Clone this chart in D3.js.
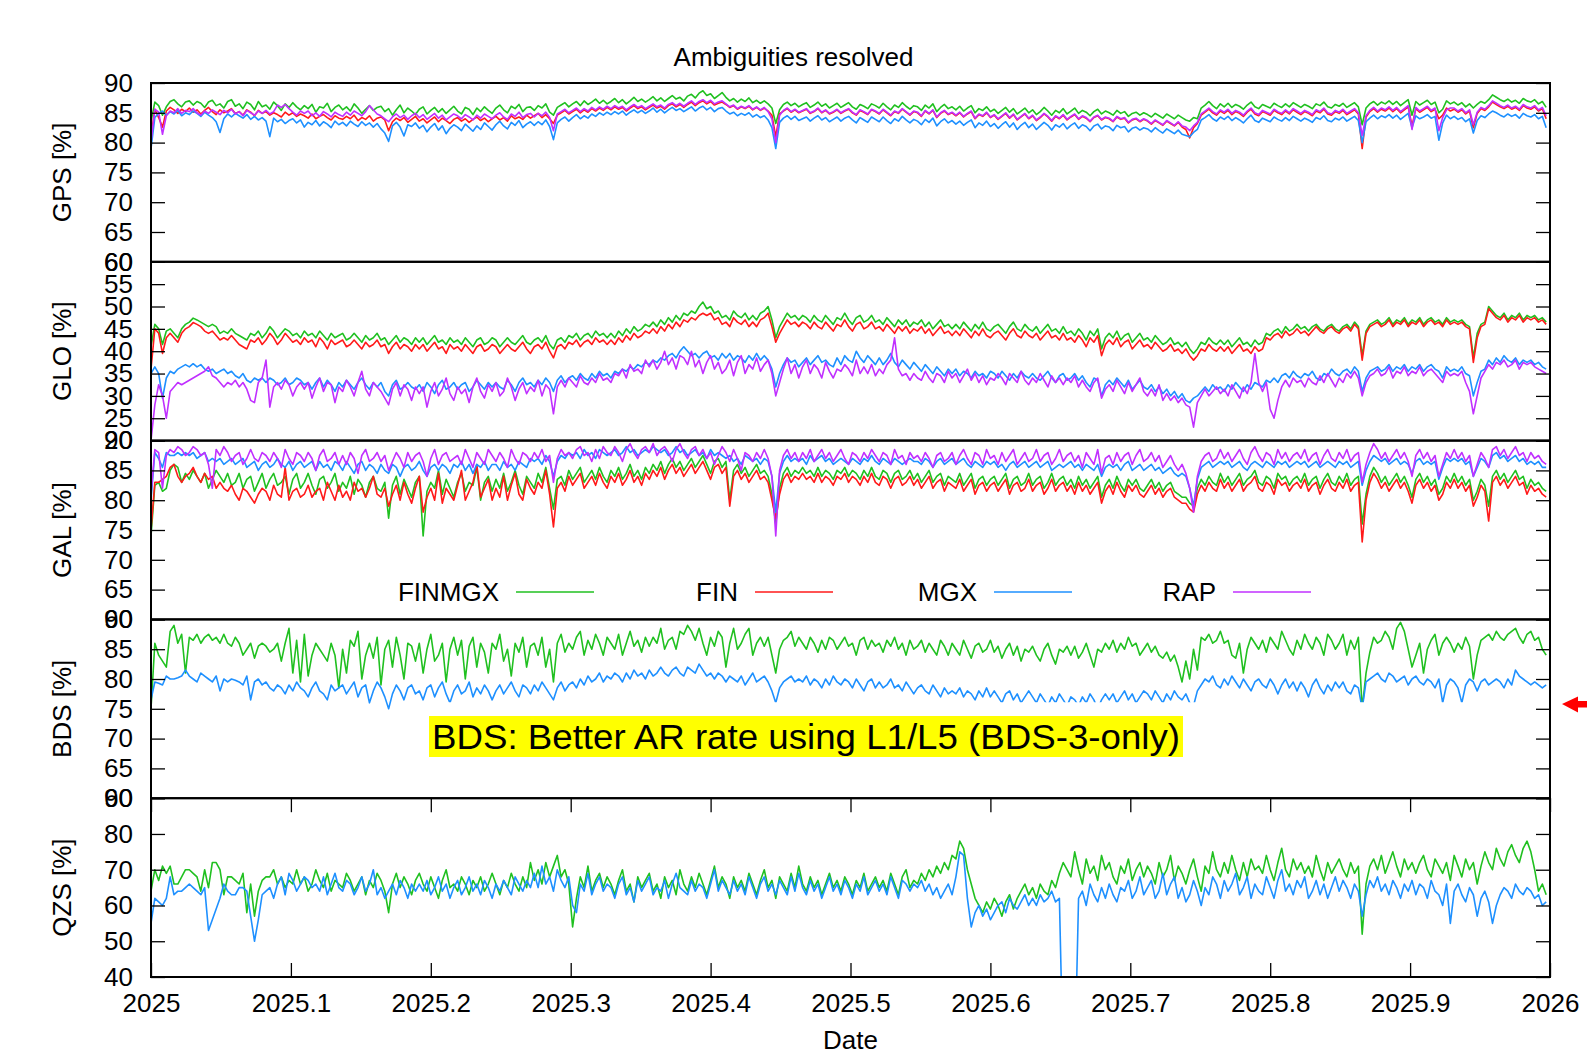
<!DOCTYPE html>
<html><head><meta charset="utf-8">
<script src="https://cdn.jsdelivr.net/npm/d3@7"></script>
<style>
body{margin:0;background:#fff}
svg{display:block}
text{font-family:"Liberation Sans",Arial,Helvetica,sans-serif}
</style>
</head><body>
<svg id="c" width="1587" height="1056"></svg>
<script>
// ---------- DATA (daily values, day 0 = 2025-01-01) ----------
const systems = ["GPS","GLO","GAL","BDS","QZS"];
const seriesNames = ["FINMGX","FIN","MGX","RAP"];
const yDomains = [[60,90],[20,60],[60,90],[60,90],[40,90]];
const yTickValues = [
  [60,65,70,75,80,85,90],
  [20,25,30,35,40,45,50,55,60],
  [60,65,70,75,80,85,90],
  [60,65,70,75,80,85,90],
  [40,50,60,70,80,90]
];
const xTickValues = [2025,2025.1,2025.2,2025.3,2025.4,2025.5,2025.6,2025.7,2025.8,2025.9,2026];
const xTickLabels = ["2025","2025.1","2025.2","2025.3","2025.4","2025.5","2025.6","2025.7","2025.8","2025.9","2026"];

const gpsFINMGX = [
83.5,86.8,86.2,84.6,86.0,86.9,87.2,86.5,86.0,86.8,
87.0,86.3,86.9,86.6,85.9,86.8,87.1,86.2,86.5,85.8,
86.9,87.2,86.1,86.5,85.7,86.8,86.4,85.5,86.9,86.0,
86.3,85.6,86.8,86.2,85.4,86.5,85.9,86.7,86.0,85.5,
86.2,85.7,86.4,85.1,86.0,85.8,86.6,85.2,85.9,86.3,
85.5,86.0,85.3,86.5,85.8,84.9,85.6,86.2,85.4,85.9,
86.1,85.2,85.7,84.6,85.5,86.3,85.0,85.8,85.3,84.7,
85.6,86.0,84.8,85.4,85.9,85.1,85.7,84.9,85.5,86.1,
85.3,84.8,85.9,85.6,84.7,85.8,85.2,86.0,85.4,84.9,
85.8,86.3,85.5,85.0,86.1,85.7,86.4,85.2,85.9,86.0,
85.4,86.2,85.8,86.5,85.1,84.6,85.9,86.3,86.7,86.0,
86.5,86.9,86.2,87.0,86.4,86.8,87.3,86.6,87.1,86.5,
86.9,87.4,86.7,87.2,86.5,87.0,87.6,86.9,87.3,86.8,
87.2,87.7,87.0,87.5,86.9,87.4,87.9,87.3,87.6,87.0,
87.8,88.1,87.5,88.3,88.7,87.9,88.2,87.4,87.9,88.4,
87.6,87.0,87.4,86.8,87.3,86.9,87.5,86.7,87.1,86.6,
87.0,86.5,85.8,83.2,85.5,86.4,86.8,86.2,86.6,86.0,
86.4,86.7,85.9,86.3,86.8,86.1,86.5,85.8,86.2,86.6,
85.9,86.3,86.7,86.0,85.6,86.4,86.1,85.7,86.5,86.2,
85.8,86.6,86.0,85.5,86.3,85.9,86.7,86.1,85.6,86.2,
86.0,85.4,86.3,85.8,86.5,85.2,85.9,86.4,85.7,86.0,
85.5,86.1,85.3,85.8,86.2,85.0,85.7,85.4,86.0,85.2,
85.6,84.9,85.4,85.9,85.1,85.7,84.8,85.3,85.8,85.0,
85.5,84.7,85.2,85.9,85.3,84.6,85.4,85.0,85.7,84.8,
85.3,85.8,84.9,85.4,85.1,84.5,85.2,85.6,84.8,85.3,
85.0,84.6,85.4,84.9,85.2,84.4,84.9,85.1,84.6,85.0,
84.7,84.3,84.9,84.5,84.1,84.8,84.4,84.0,84.6,84.2,
83.8,83.6,84.2,84.0,85.8,86.3,86.9,86.2,85.7,86.5,
86.0,86.6,85.9,86.4,86.1,85.6,86.3,86.8,86.0,85.7,
86.4,86.1,85.8,86.6,86.2,85.9,86.5,86.0,86.7,86.3,
85.9,86.4,86.1,85.7,86.5,86.2,86.8,86.0,85.8,86.4,
86.1,86.6,85.9,86.3,86.7,86.0,83.0,85.8,86.5,86.9,
86.3,86.8,86.5,87.0,86.4,86.9,86.2,86.7,87.2,84.6,
86.9,86.3,86.7,87.1,86.4,86.8,85.0,85.6,87.0,86.5,
86.8,86.3,86.7,86.0,86.5,85.8,86.4,86.9,86.6,87.2,
88.0,87.6,87.2,86.9,87.3,86.8,87.1,86.6,87.4,87.0,
86.8,87.2,86.5,86.9,85.9];

const gpsFIN = [
81.0,85.6,84.2,82.6,85.3,85.9,85.5,84.9,85.6,85.2,
85.8,85.1,85.5,84.8,85.4,85.9,85.2,84.7,85.5,85.0,
85.3,85.7,84.9,85.2,84.6,85.5,85.1,84.5,85.4,84.9,
85.2,84.6,85.0,84.7,84.3,85.1,84.6,85.0,84.4,84.8,
84.5,84.1,84.8,84.0,84.4,84.7,84.2,83.8,84.5,84.1,
83.9,84.4,84.0,84.6,83.7,84.2,83.9,84.5,83.6,84.1,
84.3,83.8,82.0,83.5,84.1,83.7,84.2,83.4,83.9,84.4,
83.6,84.0,83.3,83.8,84.3,83.5,84.1,83.7,83.2,83.9,
84.2,83.6,84.0,83.4,83.9,84.3,83.7,84.1,83.5,84.0,
84.4,83.8,84.2,83.6,84.5,84.0,84.3,83.9,84.6,84.1,
84.5,84.9,84.2,84.7,84.0,83.2,84.6,85.0,85.4,84.8,
85.2,85.6,85.0,85.5,85.1,85.7,85.3,85.8,85.4,85.9,
85.5,86.0,85.6,85.9,85.3,85.8,86.2,85.7,86.0,85.5,
85.9,86.3,85.8,86.1,85.6,86.2,86.5,86.0,86.4,85.9,
86.4,86.8,86.2,86.7,87.0,86.5,86.9,86.3,86.6,86.8,
86.4,85.9,86.2,85.6,86.0,85.7,86.1,85.5,85.9,85.4,
85.8,85.3,84.6,81.0,84.8,85.3,85.7,85.1,85.5,85.0,
85.3,85.6,84.9,85.2,85.7,85.0,85.4,84.8,85.1,85.5,
84.9,85.3,85.6,85.0,84.6,85.4,85.1,84.7,85.5,85.2,
84.8,85.5,85.0,84.5,85.2,84.9,85.6,85.1,84.6,85.2,
85.0,84.4,85.3,84.8,85.4,84.2,84.9,85.3,84.7,85.0,
84.5,85.0,84.3,84.8,85.2,84.0,84.7,84.4,85.0,84.2,
84.6,83.9,84.4,84.9,84.1,84.7,83.8,84.3,84.8,84.0,
84.5,83.7,84.2,84.8,84.3,83.6,84.4,84.0,84.6,83.8,
84.3,84.7,83.9,84.4,84.1,83.5,84.2,84.5,83.8,84.2,
84.0,83.5,84.3,83.9,84.1,83.3,83.8,84.0,83.5,83.9,
83.6,83.1,83.7,83.3,82.9,83.6,83.2,82.8,83.4,82.6,
82.2,80.8,82.5,83.2,84.6,85.1,85.6,85.0,84.6,85.3,
84.9,85.4,84.7,85.2,84.9,84.4,85.1,85.6,84.8,84.5,
85.2,84.9,84.6,85.4,85.0,84.7,85.3,84.8,85.5,85.1,
84.7,85.2,84.9,84.5,85.3,85.0,85.6,84.8,84.6,85.2,
84.9,85.4,84.7,85.1,85.5,84.8,79.0,84.3,85.2,85.7,
85.1,85.6,85.3,85.8,85.2,85.7,85.0,85.5,86.0,82.8,
85.7,85.1,85.5,85.9,85.2,85.6,84.0,84.6,85.8,85.3,
85.6,85.1,85.5,84.8,85.3,82.5,84.9,85.7,85.4,86.0,
86.8,86.4,86.0,85.7,86.1,85.6,85.9,85.4,86.2,85.8,
85.6,86.0,85.3,85.7,84.0];

const gpsMGX = [
79.0,84.2,84.9,85.3,84.6,85.2,84.8,85.4,84.5,85.0,
84.7,85.3,84.9,84.4,85.1,84.6,84.2,83.5,81.7,84.0,
84.8,84.3,84.9,84.5,84.1,84.7,83.9,84.4,83.8,84.2,
83.6,81.0,84.1,83.5,83.9,83.2,83.7,84.0,83.3,83.8,
82.6,83.4,83.0,83.7,82.8,83.5,83.1,82.5,83.6,83.0,
83.4,82.8,83.6,83.1,82.7,83.5,82.9,83.3,82.6,83.2,
82.3,81.6,80.2,82.8,83.4,82.6,81.1,83.0,82.7,83.3,
82.4,82.9,81.8,82.6,83.2,82.1,82.8,81.5,82.4,83.0,
82.6,82.0,83.1,82.5,81.9,82.8,82.2,83.3,82.7,82.1,
83.0,83.6,82.8,82.3,83.4,82.9,83.7,82.5,83.1,83.5,
82.9,83.5,83.0,83.8,82.7,80.5,83.3,83.9,84.3,83.6,
84.2,84.7,84.0,84.5,84.1,84.8,84.4,85.0,84.6,85.1,
84.7,85.2,84.8,85.3,84.6,85.1,85.5,85.0,85.4,84.9,
85.3,85.8,85.1,85.6,85.0,85.5,85.9,85.4,85.7,85.2,
85.6,86.0,85.3,85.8,86.1,85.5,85.9,85.2,85.7,85.9,
85.3,84.8,85.1,84.5,84.9,84.6,85.0,84.3,84.7,84.2,
84.5,83.8,82.5,79.0,83.4,84.1,84.5,83.9,84.4,83.7,
84.0,84.3,83.6,84.1,84.5,83.8,84.2,83.5,83.9,84.3,
83.6,84.1,84.4,83.8,83.3,84.2,83.8,83.4,84.3,83.9,
83.5,84.3,83.7,83.2,84.0,83.6,84.4,83.8,83.3,83.9,
83.6,83.0,83.9,83.4,84.1,82.8,83.5,84.0,83.3,83.7,
83.1,83.6,82.9,83.4,83.8,82.5,83.3,82.9,83.6,82.7,
83.2,82.4,83.0,83.5,82.6,83.3,82.2,82.9,83.4,82.5,
83.1,82.2,82.8,83.4,82.9,82.1,83.0,82.6,83.2,82.3,
82.9,83.3,82.4,83.0,82.7,82.0,82.8,83.1,82.3,82.8,
82.6,82.0,82.9,82.5,82.7,81.8,82.4,82.6,82.1,82.5,
82.3,81.8,82.5,82.0,81.6,82.3,81.9,81.5,82.1,81.4,
81.2,81.0,81.7,82.2,83.8,84.2,84.7,84.0,83.6,84.3,
83.9,84.4,83.7,84.2,83.8,83.3,84.0,84.6,83.7,83.4,
84.1,83.8,83.5,84.3,83.9,83.6,84.2,83.7,84.4,84.0,
83.6,84.1,83.8,83.4,84.2,83.9,84.5,83.7,83.5,84.1,
83.8,84.3,83.6,84.0,84.4,83.7,80.0,83.5,84.1,84.6,
84.0,84.5,84.2,84.7,84.1,84.6,83.9,84.4,84.9,82.5,
84.5,84.0,84.3,84.7,84.1,84.4,80.4,83.3,84.6,84.0,
84.4,83.9,84.2,83.5,84.0,81.6,83.7,84.5,84.2,84.8,
85.3,85.0,84.6,84.3,84.8,84.4,84.7,84.1,84.9,84.5,
84.3,84.7,84.0,84.4,82.5];

const gpsRAP = [
80.0,85.6,85.1,81.4,84.5,85.3,85.0,85.7,84.9,85.4,
85.2,85.7,85.0,84.6,85.3,84.9,85.5,85.1,84.7,85.4,
85.0,85.6,84.8,85.2,84.5,85.4,85.0,84.6,85.3,84.9,
85.4,84.8,85.2,86.3,85.9,86.4,85.7,85.1,84.6,85.3,
84.9,85.3,84.5,85.0,84.4,85.2,84.8,84.3,85.1,84.7,
84.4,85.1,84.6,85.3,84.9,84.5,85.2,86.2,85.5,84.8,
84.5,84.0,83.5,84.3,84.8,84.2,84.6,83.9,84.5,84.9,
84.2,84.7,83.9,84.4,84.9,84.1,84.6,83.8,84.3,84.8,
84.5,84.0,84.7,84.3,83.8,84.6,84.1,84.8,84.4,84.0,
84.6,85.0,84.3,83.9,84.8,84.4,85.1,84.2,84.7,84.9,
84.3,84.9,84.5,85.1,84.2,82.0,84.8,85.2,85.6,85.0,
85.4,85.8,85.2,85.7,85.3,85.9,85.5,86.0,85.6,86.1,
85.7,86.2,85.8,86.1,85.5,86.0,86.4,85.9,86.2,85.7,
86.1,86.5,86.0,86.3,85.8,86.4,86.7,86.2,86.6,86.1,
86.6,87.0,86.4,86.9,87.2,86.7,87.1,86.5,86.8,87.0,
86.5,86.0,86.3,85.7,86.1,85.8,86.2,85.6,86.0,85.5,
85.9,85.2,84.0,80.0,84.6,85.4,85.8,85.2,85.6,85.1,
85.4,85.7,85.0,85.3,85.8,85.1,85.5,84.9,85.2,85.6,
85.0,85.4,85.7,85.1,84.7,85.5,85.2,84.8,85.6,85.3,
84.9,85.6,85.1,84.6,85.3,85.0,85.7,85.2,84.7,85.3,
85.1,84.5,85.4,84.9,85.5,84.3,85.0,85.4,84.8,85.1,
84.6,85.1,84.4,84.9,85.3,84.1,84.8,84.5,85.1,84.3,
84.7,84.0,84.5,85.0,84.2,84.8,83.9,84.4,84.9,84.1,
84.6,83.8,84.3,84.9,84.4,83.7,84.5,84.1,84.7,83.9,
84.4,84.8,84.0,84.5,84.2,83.6,84.3,84.6,83.9,84.3,
84.1,83.6,84.4,84.0,84.2,83.4,83.9,84.1,83.6,84.0,
83.7,83.2,83.8,83.4,83.0,83.7,83.3,82.9,83.5,82.8,
82.6,82.0,82.8,83.4,84.8,85.3,85.8,85.2,84.8,85.5,
85.1,85.6,84.9,85.4,85.1,84.6,85.3,85.8,85.0,84.7,
85.4,85.1,84.8,85.6,85.2,84.9,85.5,85.0,85.7,85.3,
84.9,85.4,85.1,84.7,85.5,85.2,85.8,85.0,84.8,85.4,
85.1,85.6,84.9,85.3,85.7,85.0,81.2,84.5,85.4,85.9,
85.3,85.8,85.5,86.0,85.4,85.9,85.2,85.7,86.2,82.2,
85.9,85.3,85.7,86.1,85.4,85.8,82.0,84.2,85.5,85.8,
85.8,85.3,85.7,85.0,85.5,83.0,85.1,85.9,85.6,86.2,
87.0,86.6,86.2,85.9,86.3,85.8,86.1,85.6,86.4,86.0,
85.8,86.2,85.5,85.9,84.5];

const gloFINMGX = [
41,46,45,41.5,44.5,45,44,43,45,46,
46.5,47.4,47,46.5,46,45.5,46,45.5,44,44.5,
44,45,44,43.5,43,42.5,44,43.5,44.5,43,
44,45.5,44.5,43,44,45,44.5,43.5,44,43,
44.5,43.5,44,43,44.5,43.5,42.5,44,43,43.5,
44,42.5,43,44,43,42,43.5,42.5,43,44,
42.5,43,41.5,42.5,43.5,42,43,42.5,41.5,43,
42,43,41.5,42.5,43.5,42,42.5,41.5,43,42,
42.5,41.5,43,42,41,42.5,43,41.5,42,43,
42.5,41,42,43,42,41.5,42.5,43.5,42,41.5,
42.5,43,42,43.5,41.5,40.5,42.5,43,42,43.5,
43,44,42.5,43.5,44,43,44.5,43.5,44,43,
44,43,44.5,43.5,45,44,45.5,44.5,45,46,
45.5,46.5,45.5,47,46,47.5,46.5,48,47,48.5,
48,49,48.5,50,51,49.5,50,48.5,49,47.5,
48,47,49,48,47.5,48.5,47,48,47,48.5,
49,50,47,43,45.5,47,48.5,47.5,48,47,
48,47.5,46.5,48,47,46.5,48,47,46,47.5,
47,48.5,47,46,47.5,48,46.5,47,48,46.5,
47,46,47.5,46.5,45.5,47,46,47,45.5,46.5,
46,47,45.5,46.5,45,46,47,45.5,46,45,
46,45,46.5,45.5,44.5,46,45,46.5,45,44.5,
45.5,46,45,44,45.5,46.5,45,44.5,46,45,
44.5,45.5,44,45,46,44.5,45,44,45.5,44,
44.5,43.5,45,44,42.5,44.5,43.5,45,40.5,43,
44,43,44.5,42.5,43.5,44,42,43,44,42.5,
43,42,43.5,42.5,41.5,42,43,41.5,42,41,
42,40.5,39.5,40.5,42,41.5,43,42,41.5,42.5,
41.5,42.5,41,42,43,41.5,42,41,42.5,41.5,
42,44,43.5,44.5,45,44,45.5,44.5,45,46,
45,45.5,44.5,45.5,46,45,44.5,45.5,46,45,
44.5,45.5,46,45,46.5,45.5,39,44.5,46,46.5,
47,46,46.5,47.5,46,47,46.5,47.5,46,47,
46.5,47.5,46,47,47.5,46.5,47,46,47.5,46.5,
47,46.5,47,46,45.5,38.5,44,46,46.5,50,
49,48,47.5,48.5,47,48,47.5,48.5,47,48,
47.5,48,47,47.5,46.5];

const gloFIN = [
36,45,44,39.5,43,44,43,42,44,45,
45.5,46.4,46,45.5,44.5,44,44.5,43.5,42.5,43,
42.5,43.5,42.5,41.5,41,40.5,42.5,42,43,41.5,
42.5,44,43,41.5,42.5,44,43,42,42.5,41.5,
43,42,42.5,41,43,42,40.5,42.5,41.5,42,
42.5,41,41.5,42.5,41.5,40.5,42,41,41.5,42.5,
41,41.5,39.5,41,42,40.5,41.5,41,40,41.5,
40.5,41.5,40,41,42,40.5,41,39.5,41.5,40.5,
41,40,41.5,40.5,39.5,41,41.5,40,40.5,41.5,
41,39.5,40.5,41.5,40.5,40,41,42,40.5,39.5,
41,41.5,40.5,42,40,38.5,41,41.5,40.5,42,
41.5,42.5,41,42,42.5,41.5,43,42,42.5,41.5,
42.5,41.5,43,42,43.5,42.5,44,43,43.5,44.5,
44,45,44,45.5,44.5,46,45,46.5,45.5,47,
46.5,47.5,47,48,48.5,48,48.5,47,47.5,46,
46.5,45.5,47.5,46.5,46,47,45.5,46.5,45.5,47,
47.5,48.5,45.5,42,44,45.5,47,46,46.5,45.5,
46.5,46,45,46.5,45.5,45,46.5,45.5,44.5,46,
45.5,47,45.5,44.5,46,46.5,45,45.5,46.5,45,
45.5,44.5,46,45,44,45.5,44.5,45.5,44,45,
44.5,45.5,44,45,43.5,44.5,45.5,44,44.5,43.5,
44.5,43.5,45,44,43,44.5,43.5,45,43.5,43,
44,44.5,43.5,42.5,44,45,43.5,43,44.5,43.5,
43,44,42.5,43.5,44.5,43,43.5,42.5,44,42.5,
43,42,43.5,42.5,41,43,42,43.5,39,41.5,
42.5,41.5,43,41,42,42.5,40.5,41.5,42.5,41,
41.5,40.5,42,41,40,40.5,41.5,40,40.5,39.5,
40.5,39,38,39,40.5,40,41.5,40.5,40,41,
40,41,39.5,40.5,41.5,40,40.5,39.5,41,40,
40.5,43,42.5,43.5,44,43,44.5,43.5,44,45,
44,44.5,43.5,44.5,45.5,44.5,44,45,45.5,44.5,
44,45,45.5,44.5,46,45,38,44,45.5,46,
46.5,45.5,46,47,45.5,46.5,46,47,45.5,46.5,
46,47,45.5,46.5,47,46,46.5,45.5,47,46,
46.5,46,46.5,45.5,45,37.5,43,45.5,46,49.5,
48.5,47.5,47,48,46.5,47.5,47,48,46.5,47.5,
47,47.5,46.5,47,46];

const gloMGX = [
35,36.5,35,29.5,34,35.5,35,36,36.5,37,
36.5,37.2,36.5,37,36,35.5,36,35,35.5,36,
35,35.5,34.5,34,35,33.5,33,34,33.5,34,
33,34,33.5,32.5,33,34,32.5,33,34,33.5,
32.5,33,31.5,33,34,32,33.5,32.5,31,33,
32,33.5,32.5,31.5,33,34,32.5,31.5,33,32,
33,31,30,32.5,33.5,31.5,32,33,32,31.5,
32.5,31,33,32,30.5,32.5,33.5,31.5,32,33,
31.5,32.5,33,31,32,33.5,32.5,31.5,33,32,
33,32,31.5,33.5,32.5,31,33,34,32.5,33,
32,33.5,32.5,34,33,31,33.5,34.5,33,34,
34.5,33.5,35,34,33.5,35,34,35.5,34.5,35,
34,35.5,35,36,35.5,36.5,36,37,36.5,37.5,
37,38,37.5,38.5,38,39,39.5,38.5,40,41,
40,39,39.5,38.5,39.5,40,38.5,39,38,39.5,
38.5,39.5,38,39,38.5,37.5,39,38,39.5,38,
39,38,36,32,35,37,38.5,37.5,38,36.5,
37.5,38.5,37,38,39,37.5,38,37,36.5,38.5,
37,39,38,37.5,40,38.5,37.5,39,38,37,
38.5,37,38,39.5,37.5,36.5,38,37,36,37.5,
36.5,35.5,37,36,35,36.5,35.5,34.5,36,35,
36,34.5,35.5,35,34,35.5,34.5,35,34,35.5,
35,34,35.5,34.5,33.5,35,34,35.5,34.5,34,
35,34,33.5,34.5,35.5,34,33,34.5,35,33.5,
34,35,33.5,34.5,33,32,34,33.5,30,32.5,
33.5,32.5,34,33,32,33.5,31.5,32.5,33.5,32,
31.5,32.5,31,32,30.5,31.5,30,31,29.5,30.5,
29,28.5,29.5,30,31,32,31,32.5,31.5,32,
31,32.5,31.5,33,32,31,32.5,31.5,33,32.5,
32,33.5,33,34,33,34.5,35,34,35.5,34.5,
34,35,34.5,35.5,34,33.5,35,34.5,36,35,
34.5,35.5,36,35,36.5,35.5,31,34,35.5,36,
36.5,35.5,36,37,35.5,36.5,36,37,35.5,36.5,
36,37,35.5,36.5,37,36,35.5,34,36.5,35.5,
36,35.5,36.5,35,34.5,30,33,35.5,36,38,
37,38.5,37.5,39,38,37.5,38.5,37,38,37.5,
38,37,37.5,36.5,36];

const gloRAP = [
20,28,32.5,30,25,31,32,33,32.5,33,
33.5,34,34.5,35,35.5,36.5,34.5,34,33,32,
33,32.5,33.5,32,33,31.5,29,28.5,33,34,
38,27.5,32,33,31.5,33.5,32.5,30,32,33,
31.5,33,29.5,32,34,31,33,32.5,28.5,32,
31,33.5,32,30,33,35.5,31.5,30,33,32,
31,29.5,28,31.5,33,30,32.5,31.5,29,32,
30.5,32,27.5,31,33,30,31.5,34,30.5,29,
32,30.5,31.5,28.5,32,34,31,29.5,32.5,31,
33,30,31,34,32,29,31.5,33,30.5,32,
31,33.5,30,32.5,31.5,26,32,33.5,32,34,
33,32,34.5,33,32.5,34,33,35,33.5,34,
33,35,34.5,36,34,37,35.5,36,35,38,
36.5,38,36,37.5,40,37,38.5,36,39,38.5,
37,40,36.5,38,35,37.5,39,36,37.5,35,
36,38,34.5,37.5,39,35,37,36,38.5,35.5,
37,38,35,30,33,36,38.5,35,37,34,
36.5,38,35,37,36,34,37.5,35.5,34,36,
35.5,37,36,34.5,38,35,36.5,35,37,34.5,
36,35,37,38,43,36,34.5,35,33.5,35,
34,33.5,35.5,34,33,35,34.5,33,35.5,34,
35,33,34.5,36,33.5,35,33,34.5,32.5,34,
33.5,35,34,32.5,35,34,33,35.5,33.5,32.5,
34,33,35,33.5,32,34.5,33,34,32.5,34,
33,34.5,32,33.5,32,31,33,34,29.5,31.5,
32.5,31,33.5,32,30.5,33,31,32.5,34,31,
30,31.5,30,32.5,29,30.5,29,30,28.5,29.5,
28,27.5,23,28.5,30,31.5,30,31,32,30.5,
31.5,30,32.5,31,29.5,32,30.5,33,39.5,33,
31,33,27,25,29,32,33.5,32,34,33,
33.5,32,34,33,32.5,34.5,33,35,33.5,32,
34,33,35,34,35.5,34,30,33,34.5,35,
36,34.5,35,36.5,34,35.5,35,36.5,34.5,35.5,
35,36.5,34.5,35.5,36,35,34,33,35.5,34.5,
35,34.5,35.5,33,31,26,30,34,35.5,37,
36,37.5,37,38,36.5,37,38,36,37.5,37,
37.5,36.5,36,35.5,35];

const galFINMGX = [
74,82.5,83,81.5,82,85,86,85.5,83,84.5,
83.5,85,84,83,84.5,82,83.5,85,84,83,
84.5,82.5,83,84.5,82,83.5,84,81.5,83,84.5,
82,83.5,84.5,82.5,83,84,81,83.5,84.5,82,
83,84.5,82.5,81,83.5,84,82,83,84.5,81.5,
83,82,84,81,83.5,82.5,80.5,83,84,82,
81.5,83,77,82.5,84,81,83.5,82,80.5,83,
84,74,81.5,83,82,85,81,83.5,82,80.5,
83,84.5,81.5,83,82.5,85.5,80,83,84,81.5,
83.5,82,84.5,81.5,83,85,82.5,81,84,83,
82,84.5,83,85.5,82,78.5,83.5,84,82.5,85,
83.5,84.5,85.5,83,84,85,83.5,85.5,84,83,
85,84,85.5,83.5,84.5,86,84,85,83.5,85.5,
84.5,86,85,86.5,84.5,86,87,85.5,86.5,85,
86,87,85.5,86.5,87.5,86,84.5,86.5,87,85.5,
86.5,80,85,86,84.5,85.5,84,85,86,84.5,
85,84,81,76,82,84.5,85.5,84,85,84.5,
85.5,84.5,85,84,85.5,84,85,84.5,83.5,85,
84.5,85.5,84,85,84.5,83.5,85,84,85.5,84,
83.5,85,84.5,83,84.5,85,83.5,84,85,83.5,
84.5,83,84,85,83,84,84.5,82.5,84,83.5,
83,84.5,82.5,83.5,84.5,82,83.5,84,82.5,83.5,
84,82.5,83.5,84.5,82,83.5,84,82.5,83,84.5,
82.5,83.5,84,82,83,84.5,82.5,83.5,84,82.5,
83.5,82,84,82.5,83.5,82,83,84,80.5,82.5,
83.5,82,84,82.5,81.5,83.5,82.5,83.5,82,81.5,
82.5,83.5,82,83,81.5,82.5,83,81.5,81,80.5,
80.5,79.5,79,82,83.5,82.5,84,83,82.5,84.5,
83,84,82.5,83.5,84.5,82.5,83.5,84,85,83,
82.5,84,83.5,82,84.5,83.5,84,82.5,83.5,84,
83,84.5,82.5,83.5,84,82,83.5,84.5,83,82.5,
84,83,84.5,82.5,83.5,84,76,81,84,85.5,
84.5,83,84,82.5,83.5,84.5,83,84,82.5,80.5,
83.5,84.5,83,84,82.5,83.5,81,82,84,83,
84.5,83,84,82.5,83.5,80,81.5,83.5,82.5,79,
84,85,83.5,84.5,83,84,85,83.5,84,82,
83.5,82.5,83,82,81.5];

const galFIN = [
75,83,83,83.5,84,85.5,86,84,83,84,
84.5,85.5,84,83,84.5,83.5,84,82,83,82,
81.5,82.5,81,80,82,81.5,80.5,79.5,81,82,
81.5,80,82.5,81,80.5,85.5,80,81.5,82,80.5,
81,82.5,80.5,81.5,82,80,83,81.5,80,82.5,
80.5,81.5,80,83,81.5,82,80.5,82,84,81,
80.5,82,79,81,82.5,80,83,81,79.5,82,
84,78,80.5,82,80,84.5,79.5,82,81,80,
82.5,85,80,81.5,83,86,80.5,82,83.5,80,
82,80.5,84,80,82.5,84.5,81,80,83.5,82,
81,83,82,85,81,75.5,82,83,81.5,84,
82.5,83.5,84.5,82,83,84,82.5,84.5,83,82,
84,83,84.5,82.5,83.5,85,83,84,82.5,84.5,
83.5,85,84,85.5,83.5,85,86,84.5,85.5,84,
85,86,84.5,85.5,86.5,85,83.5,85.5,86,84.5,
85.5,79,84,85,83.5,84.5,83,84,85,83.5,
84,83,80,77,81,83.5,84.5,83,84,83.5,
84.5,83.5,84,83,84.5,83,84,83.5,82.5,84,
83.5,84.5,83,84,83.5,82.5,84,83,84.5,83,
82.5,84,83.5,82,83.5,84,82.5,83,84,82.5,
83.5,82,83,84,82,83,83.5,81.5,83,82.5,
82,83.5,81.5,82.5,83.5,81,82.5,83,81.5,82.5,
83,81.5,82.5,83.5,81,82.5,83,81.5,82,83.5,
81.5,82.5,83,81,82,83.5,81.5,82.5,83,81.5,
82.5,81,83,81.5,82.5,81,82,83,79.5,81.5,
82.5,81,83,81.5,80.5,82.5,81.5,82.5,81,80.5,
81.5,82.5,81,82,80.5,81.5,82,80.5,80,79.5,
79.5,78.5,78,81,82.5,81.5,83,82,81.5,83.5,
82,83,81.5,82.5,83.5,81.5,82.5,83,84,82,
81.5,83,82.5,81,83.5,82.5,83,81.5,82.5,83,
82,83.5,81.5,82.5,83,81,82.5,83.5,82,81.5,
83,82,83.5,81.5,82.5,83,73,80,83,84.5,
83.5,82,83,81.5,82.5,83.5,82,83,81.5,79.5,
82.5,83.5,82,83,81.5,82.5,80,81,83,82,
83.5,82,83,81.5,82.5,79,80.5,82.5,81.5,76.5,
83,84,82.5,83.5,82,83,84,82.5,83,81,
82.5,81.5,82,81,80.5];

const galMGX = [
80,88,87,85.5,88,87.5,87.5,88,87.5,88,
87.5,88,87,87.5,88,86.5,87,86.5,87,86,
86.5,87,86,86.5,87,85.5,86,86.5,85,86,
86.5,85.5,86,87,86,85.5,86.5,85,86,86.5,
85.5,86,86.5,85,86.5,85.5,86,85,86.5,86,
85,86.5,85.5,84.5,86,86.5,85,86,85.5,84.5,
86,85,84.5,86,85.5,84,85.5,86,85,85.5,
86.5,85,84,85.5,86,85,86,85.5,84.5,86,
85.5,86.5,85,86,84.5,86,85.5,86.5,85,86,
86,85,86.5,85.5,86,85,86.5,86,85.5,87,
86.5,87,86,87.5,86.5,84,86.5,87.5,87,88,
87.5,88,87,88.5,87.5,88,87,88.5,88,87.5,
88,88.5,87.5,88,89,88,88.5,87.5,88,88.5,
88,89,88.5,88,88.5,87.5,88,89,88,88.5,
87.5,88,88.5,87.5,88,87,88.5,87.5,88,87.5,
87,87.5,86.5,87,86,87.5,87,86.5,87,86,
87,86.5,84,78,84.5,86.5,87.5,86.5,87,86.5,
87,86,87.5,86.5,87,87.5,86.5,87,86,86.5,
87,86.5,86,87,86.5,86,87,86.5,87.5,86.5,
86,87,86.5,86,87,86.5,86,86.5,87,86.5,
86.5,86,87,86.5,85.5,86.5,87,86,86.5,87,
86,86.5,87,86,85.5,86.5,86,85.5,86.5,86,
86.5,85.5,86,85,86,86.5,85.5,86,86.5,85.5,
86,86.5,85.5,86,86.5,85,85.5,86,85.5,86,
86.5,85.5,86,85,86,85.5,85,86,84,85.5,
86,85.5,86,85,86,86.5,85,85.5,86,85,
85.5,86,85,85.5,84.5,85,85.5,84.5,84,84.5,
84,82,79,83.5,85.5,86,86.5,85.5,86,86.5,
86,86.5,85.5,86,86.5,85.5,85,86,86.5,86,
85.5,86.5,86,85.5,86.5,86,86.5,85.5,86,86.5,
86,86.5,85.5,86,86.5,85.5,86,86.5,86,85.5,
86.5,86,86.5,85.5,86,86.5,82.5,85,86.5,87.5,
87,86.5,87,86,86.5,87,86,86.5,86,84.5,
86.5,87,86,86.5,86,86.5,83.5,85.5,87,86.5,
87,86.5,87,86,86.5,84,85.5,87,86.5,85.5,
87.5,88,87,87.5,86.5,87,87.5,86.5,87,86,
86.5,86,86.5,85.5,85.5];

const galRAP = [
81,88.5,88,82,87.5,88.5,88,89,88.5,87.5,
88,89,88.5,87.5,88,86,82,88.5,87.5,89,
88,86.5,87.5,88,86,87,88.5,87,86.5,88,
87.5,86.5,88,87,85.5,88.5,87,86,88,87.5,
86.5,88,87,85,87.5,88.5,86.5,87,88,86,
87.5,86,88,87,84.5,87.5,88.5,86.5,87,88,
86.5,87.5,85,86.5,88,87,85.5,88,86.5,87.5,
88,86.5,84,87,88.5,86,87.5,88,86.5,87,
87.5,86,88.5,87,85.5,88,87,86,88.5,87.5,
86.5,88,87,85.5,88.5,87,86,88,87.5,86.5,
88,87,88.5,86.5,87.5,83,87,88.5,87.5,88,
87,88.5,89,87.5,88,86.5,88.5,87,89,88,
87.5,89,88,86.5,88.5,89.5,88,87,88.5,89,
88,89.5,87.5,88.5,89,88,86.5,88.5,89.5,88,
87,88.5,89,87.5,88.5,87,88,86,87.5,89,
88,86.5,88.5,87,85,88,87.5,86.5,88,87,
88.5,87,84,74,85,87.5,88.5,87,88,86.5,
88,87,88.5,86.5,87.5,88.5,87,88,86.5,87.5,
88.5,87,86,88,87.5,86.5,88,87,88.5,87.5,
86.5,88,87.5,86,88.5,87,87.5,86,88,87,
87.5,86.5,88,87,85.5,87.5,88,86.5,87,88,
86,87.5,88.5,87,86,88,87.5,86,88.5,87,
87.5,86,88,86.5,87.5,88.5,86,87,88,86.5,
87,88.5,86.5,87.5,88,86,87,88.5,86.5,87.5,
88,86.5,87.5,85.5,88,87,86,88.5,84.5,87,
87.5,86,88,86.5,87.5,88,86,87.5,88.5,86.5,
87,88,86.5,87.5,85.5,86.5,87.5,86,85,86,
84.5,82,78,84,86.5,87.5,88,86.5,87,88.5,
87,88,86.5,87.5,88.5,87,86,88,89,87.5,
86.5,88,87.5,86,88.5,87,88,86.5,87.5,88,
87,88.5,86.5,87.5,88,86,87.5,88.5,87,86.5,
88,87,88.5,86.5,87.5,88,83,86,88,89.5,
88.5,87,88,86.5,87.5,88.5,87,88,86.5,84,
87.5,88.5,87,88,86.5,87.5,84,86,88,87,
88.5,87,88,86.5,87.5,84,86,88,87,85.5,
88.5,89,87.5,88.5,87,88,89,87.5,88,86.5,
88,87,87.5,86.5,86];

const bdsFINMGX = [
75,86,84,83,82,88,89,86,87.5,81,
87,86.5,87.5,86,87,87.5,86.5,87,86,87.5,
86,85.5,87,86,84,85,86,83.5,85.5,86,
85.5,84.5,85,86,83,86,88.5,81,86.5,79.5,
87.5,80.5,84,86,85,84,83,86,84,78.5,
85,81,86.5,85.5,88,80,84,86,83.5,87,
79,85,86.5,82,87,84,80,86,85.5,83,
86,81,85,87.5,83,84,86,79.5,85,87,
84,86.5,80,85.5,87,82,86,84.5,81,86,
85,87.5,83,85,80.5,86,84.5,87,82,85.5,
86,84,87,82,85,79.5,86,87.5,84.5,86,
85,87,88,84,86.5,85,87.5,86,84,87,
86,85,87.5,84,86,88,85.5,86.5,84.5,87,
85.5,87,86,88.5,85,86.5,87,85,88,87.5,
89,88,86.5,88.5,86,84,87,85.5,88,87,
82,86,88.5,85,86,87.5,88.5,84,86,87,
85.5,87,84,81,85,86.5,87,88,85.5,87,
86,85,87,86,84.5,86.5,85,87,86.5,85,
86,87,85.5,86,84,86.5,87,85,86.5,85.5,
86,84.5,86.5,85.5,87,85,86,84,86.5,85,
85.5,86.5,84.5,86,85,84,86.5,85.5,84,86,
85,84,86.5,85,83.5,85.5,86,84.5,85,86.5,
84.5,85.5,83.5,85,86,84,85.5,83,85,84.5,
85.5,84,83,85,86,84,82.5,85,84.5,85.5,
84,85.5,83.5,84.5,86,84,82,85,84.5,86,
85,86.5,84.5,86,85,87,85.5,86,84,85,
86,84.5,85.5,84,83.5,84.5,83,84,82,79.5,
83,80,85,81.5,87,86.5,87.5,86,86.5,88,
86,86.5,84,83.5,86,81,85,87,86,85,
86.5,84.5,87,86,85,88,86.5,85,84,86.5,
85,87.5,86,85,87,86,84,87.5,86.5,85,
86,87.5,84,86.5,85,87,75,81,84.5,87,
86,86.5,88,87,85,88.5,89.5,88,85,82,
84,86,81,85,86.5,87.5,84,86,87,86,
84.5,86,85,87,85.5,80,84,86.5,87,87.5,
86.5,88,87,86.5,87.5,88,88.5,87,86,87.5,
88,86.5,87,85,84];

const bdsMGX = [
76.5,79.5,79.3,79,80.5,80,80,80.2,80.5,81.5,
80.5,80,79.5,81,80.5,80,79.5,80.5,78,80,
79.5,80,79.8,79.5,79,80.5,76.5,79.5,80,79,
79.5,78.5,78,79,78.5,77.5,79,78,79.5,78.5,
78,77,78.5,79.5,78,77.5,76.5,79,78,78.5,
79,77.5,78.5,79.5,77,78.5,79,76,78,79.5,
78.5,77,75,77.5,79,78,76.5,78.5,79,77.5,
78,76.5,78.5,79,77,78.5,79.5,77.5,76,78,
79,77.5,78,79.5,77,78.5,77.5,79,78,76.5,
78,79,77.5,78.5,79.5,78,77,79,78.5,77.5,
79,78,79.5,78.5,77.5,76.5,78.5,79.5,78,79,
79.5,78.5,80,79,80.5,79.5,80,81,79.5,80.5,
80,81,80.5,79.5,81,80,81.5,80.5,81,80,
81.5,80.5,81,82,81,80.5,81.5,82,81,80.5,
82,81.5,81,82.5,81.5,80.5,81,80,81,80.5,
79.5,80.5,80,79.5,80.5,79,80,81,79.5,80,
80.5,79.5,78,76,78.5,79.5,80,80.5,79.5,80,
79.5,80.5,79,80,79.5,78.5,80,79,80.5,79.5,
79,80,79.5,78.5,80,79,78,79.5,80,78.5,
79.5,78.5,79,80,78.5,79,78,79.5,78.5,77.5,
78.5,79,78,77.5,79,78,77,78.5,77.5,78,
77.5,78.5,77,78,77.5,76.5,78,77,78.5,77,
78,77,76,77.5,78,76.5,77.5,76,77,78,
77,76,77.5,76.5,75.5,77,76,77.5,76.5,75.5,
77,76.5,75.5,77,76,77.5,76.5,75,76.5,77.5,
76.5,77.5,76,77,78,76.5,77.5,76,77,78,
77.5,76.5,78,77,76,77.5,76.5,78,77,76.5,
77.5,76,75.5,78,79,80,79.5,80.5,79,78.5,
80,79,80.5,79.5,78.5,80,79,78,79.5,80,
79,78.5,80,79,77.5,79,80,78.5,79.5,78,
79.5,78.5,77,79,80,78.5,77.5,79,78,79.5,
78.5,79.5,78,77.5,79,78.5,75,79.5,80,80.5,
81,80,79.5,81,80.5,79.5,80,80.5,79,80,
80.5,79.5,79,80,79.5,78.5,80,76,79,80,
79.5,78.5,76,79,80,79.5,78,79.5,80,79,
79.5,80,79.5,78.5,80,79,81.5,80.5,80,79.5,
79,79.5,79,78.5,79];

const qzsFINMGX = [
64,70,67,71,69,71,66,66,68,70,
70,69,68,64,70,65,72,72,70,63,
68,68,67,66,69,58,66,57,64,67,
68,68,70,66,68,65,67,66,70,66,
68,64,66,70,67,65,69,64,67,66,
65,69,67,64,66,68,63,67,65,69,
67,64,58,66,69,65,68,66,63,67,
69,66,64,68,65,62,67,70,65,66,
64,68,66,63,67,65,68,64,66,69,
66,63,67,65,69,66,64,68,65,72,
67,70,66,72,68,71,74,68,70,66,
54,62,68,65,71,64,67,69,65,68,
66,63,67,70,64,66,61,68,65,67,
69,64,66,62,68,65,67,63,70,66,
64,68,65,69,66,63,67,71,65,68,
66,62,68,65,67,64,69,66,63,67,
70,65,67,62,68,66,64,69,65,71,
66,64,68,65,67,63,66,69,65,67,
64,68,66,63,67,65,69,64,66,68,
65,67,64,69,66,63,68,70,65,67,
66,69,67,70,68,71,69,72,70,74,
73,78,76,70,66,62,60,58,61,59,
62,60,57,61,63,59,62,64,66,63,
65,62,66,64,63,67,65,69,72,70,
68,75,70,66,73,69,71,67,74,70,
72,68,66,71,69,73,67,70,72,68,
71,69,66,72,68,70,74,67,71,69,
66,70,73,68,64,71,69,75,70,68,
72,69,74,70,67,72,68,73,70,71,
69,74,70,67,72,76,70,68,73,70,
72,69,71,68,74,70,67,72,69,71,
73,70,68,72,69,71,52,66,71,73,
70,74,69,72,75,71,68,73,70,72,
69,72,74,70,68,73,71,69,72,67,
74,71,68,73,70,72,66,71,75,72,
70,76,73,71,75,77,74,72,76,78,
75,70,64,66,63];

const qzsMGX = [
55,62,61,60,62,68,63,64,64,65,
66,65,64,63,65,53,56,59,62,66,
64,63,63,65,65,64,57,50,56,63,
64,65,62,66,68,63,69,67,64,66,
68,67,65,66,64,68,63,66,69,65,
64,67,66,63,65,68,64,66,70,63,
65,62,64,66,63,67,65,62,66,64,
66,64,67,63,65,68,64,66,62,65,
67,63,65,68,64,66,63,67,65,62,
66,64,67,65,63,68,66,64,67,65,
69,65,71,66,68,64,70,67,65,68,
60,58,66,64,69,63,66,68,64,66,
65,62,66,68,63,65,61,67,64,66,
68,63,65,64,67,62,66,69,65,64,
63,67,64,66,65,62,66,70,64,67,
65,63,67,64,66,63,68,65,62,66,
68,64,66,63,67,65,63,68,64,69,
65,63,67,64,66,62,65,68,64,66,
63,67,65,62,66,64,68,63,65,67,
64,66,63,68,65,62,67,66,64,66,
65,67,64,66,63,65,62,64,66,63,
68,75,74,62,54,58,60,57,59,56,
58,60,61,58,62,60,59,61,63,60,
62,60,63,61,62,64,61,62,15,14,
16,15,62,64,60,66,63,61,65,62,
66,63,61,65,64,67,62,64,68,63,
65,67,62,64,69,63,66,68,62,65,
61,63,67,64,60,65,63,68,66,62,
67,64,66,69,63,65,68,62,66,64,
63,68,65,62,67,70,64,66,63,67,
65,68,62,64,67,63,66,62,65,68,
64,67,65,62,66,64,57,63,67,65,
68,64,66,63,67,65,62,66,64,67,
63,66,65,62,67,64,63,60,66,55,
64,66,63,61,65,63,57,62,64,61,
55,60,63,65,64,62,66,64,63,65,
64,62,63,60,61];

const seriesColors = ["#20c020","#ff1a1a","#1e90ff","#c030ff"];

// ---------- BUILD ----------
const panels = [
  {name:"GPS", series:[gpsFINMGX,gpsFIN,gpsMGX,gpsRAP]},
  {name:"GLO", series:[gloFINMGX,gloFIN,gloMGX,gloRAP]},
  {name:"GAL", series:[galFINMGX,galFIN,galMGX,galRAP]},
  {name:"BDS", series:[bdsFINMGX,null,bdsMGX,null]},
  {name:"QZS", series:[qzsFINMGX,null,qzsMGX,null]}
];

const svg = d3.select("#c");
const L = 151, R = 1550, T0 = 83, PH = 178.8;
const FS = 26;
const x = d3.scaleLinear().domain([2025, 2026]).range([L, R]);

svg.append("text").attr("x", 793.5).attr("y", 66).attr("text-anchor","middle")
  .attr("font-size", FS).text("Ambiguities resolved");

panels.forEach((p, i) => {
  const top = T0 + i * PH, bot = top + PH;
  const y = d3.scaleLinear().domain(yDomains[i]).range([bot, top]);
  const cid = "clip" + i;
  svg.append("clipPath").attr("id", cid).append("rect")
    .attr("x", L).attr("y", top).attr("width", R - L).attr("height", PH);
  const g = svg.append("g").attr("clip-path", `url(#${cid})`);
  const line = d3.line().x((d, j) => x(2025 + j / 365)).y(d => y(d));
  p.series.forEach((vals, k) => {
    if (!vals) return;
    g.append("path").datum(vals).attr("d", line)
      .attr("fill","none").attr("stroke", seriesColors[k])
      .attr("stroke-width", 1.6).attr("stroke-linejoin","round");
  });

  if (p.name === "BDS") {
    // white text-box background that hides the lower part of the BDS panel
    svg.append("rect").attr("x", 425).attr("y", y(76.1)).attr("width", 1536 - 425)
      .attr("height", 60).attr("fill", "#fff");
  }

  // left axis
  const ga = svg.append("g").attr("transform", `translate(${L},0)`)
    .call(d3.axisLeft(y).tickValues(yTickValues[i]).tickSize(-14).tickPadding(18).tickFormat(d3.format("d")));
  ga.select(".domain").remove();
  ga.selectAll("line").attr("stroke","#000").attr("stroke-width",1.3);
  ga.selectAll("text").attr("font-size", FS).attr("font-family","Liberation Sans, Arial, sans-serif").attr("fill","#000");
  // right mirror ticks
  const gr = svg.append("g").attr("transform", `translate(${R},0)`)
    .call(d3.axisRight(y).tickValues(yTickValues[i]).tickSize(-14).tickFormat(""));
  gr.select(".domain").remove();
  gr.selectAll("line").attr("stroke","#000").attr("stroke-width",1.3);

  // frame
  svg.append("rect").attr("x", L).attr("y", top).attr("width", R - L).attr("height", PH)
    .attr("fill","none").attr("stroke","#000").attr("stroke-width", 2);

  // y-axis title
  svg.append("text").attr("transform", `translate(71,${(top + bot) / 2}) rotate(-90)`)
    .attr("text-anchor","middle").attr("font-size", FS).text(p.name + " [%]");

  if (i === 4) {
    const gb = svg.append("g").attr("transform", `translate(0,${bot})`)
      .call(d3.axisBottom(x).tickValues(xTickValues).tickSize(-14).tickPadding(17)
        .tickFormat((d, j) => xTickLabels[j]));
    gb.select(".domain").remove();
    gb.selectAll("line").attr("stroke","#000").attr("stroke-width",1.3);
    gb.selectAll("text").attr("font-size", FS).attr("font-family","Liberation Sans, Arial, sans-serif").attr("fill","#000");
    const gt = svg.append("g").attr("transform", `translate(0,${top})`)
      .call(d3.axisTop(x).tickValues(xTickValues).tickSize(-14).tickFormat(""));
    gt.select(".domain").remove();
    gt.selectAll("line").attr("stroke","#000").attr("stroke-width",1.3);
  }
});

// legend (inside GAL panel)
const legX = [499, 738, 977, 1216];
const legY = 592;
seriesNames.forEach((n, k) => {
  svg.append("text").attr("x", legX[k]).attr("y", legY + 9).attr("text-anchor","end")
    .attr("font-size", FS).text(n);
  svg.append("line").attr("x1", legX[k] + 17).attr("x2", legX[k] + 95)
    .attr("y1", legY).attr("y2", legY).attr("stroke", seriesColors[k]).attr("stroke-width", 1.6);
});

// x-axis title
svg.append("text").attr("x", (L + R) / 2).attr("y", 1049).attr("text-anchor","middle")
  .attr("font-size", FS).text("Date");

// annotation
svg.append("rect").attr("x", 429).attr("y", 716).attr("width", 754).attr("height", 41).attr("fill", "#ffff00");
svg.append("text").attr("x", 432).attr("y", 749).attr("font-size", 35)
  .attr("font-family", "'DejaVu Sans Condensed','DejaVu Sans',sans-serif")
  .attr("textLength", 748).attr("lengthAdjust", "spacingAndGlyphs")
  .attr("fill", "#000").text("BDS: Better AR rate using L1/L5 (BDS-3-only)");

// red arrow at the right edge
svg.append("path").attr("d", "M1562,704 L1578,696.5 L1578,701 L1590,701 L1590,707.5 L1578,707.5 L1578,712.5 Z")
  .attr("fill", "#ff0000");
</script>
</body></html>
